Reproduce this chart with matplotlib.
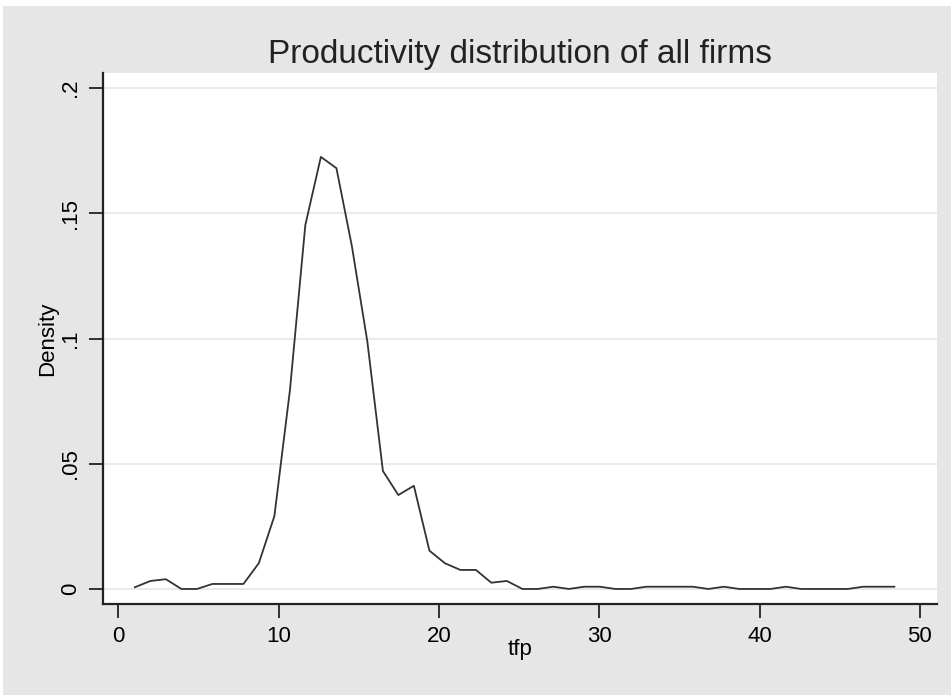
import matplotlib
matplotlib.use("Agg")
import matplotlib.pyplot as plt
from matplotlib.patches import Rectangle

plt.rcParams['font.family'] = ['Liberation Sans', 'DejaVu Sans']

# kdensity-style evaluation points (tfp) and density values
tfp = [1.04, 2.01, 2.97, 3.94, 4.91, 5.87, 6.84, 7.81, 8.77, 9.74,
       10.71, 11.67, 12.64, 13.61, 14.57, 15.54, 16.51, 17.47, 18.44, 19.41,
       20.37, 21.34, 22.31, 23.27, 24.24, 25.21, 26.17, 27.14, 28.11, 29.07,
       30.04, 31.01, 31.97, 32.94, 33.91, 34.87, 35.84, 36.81, 37.77, 38.74,
       39.70, 40.67, 41.64, 42.60, 43.57, 44.54, 45.50, 46.47, 47.44, 48.41]
density = [0.0007, 0.0032, 0.0039, 0.0, 0.0, 0.002, 0.002, 0.002, 0.0103, 0.0291,
           0.0794, 0.1453, 0.1725, 0.168, 0.137, 0.0987, 0.0471, 0.0375, 0.0412, 0.0153,
           0.0103, 0.0076, 0.0076, 0.0025, 0.0032, 0.0, 0.0, 0.0009, 0.0, 0.0009,
           0.0009, 0.0, 0.0, 0.0009, 0.0009, 0.0009, 0.0009, 0.0, 0.0009, 0.0,
           0.0, 0.0, 0.0009, 0.0, 0.0, 0.0, 0.0, 0.0009, 0.0009, 0.0009]

xticks = [0, 10, 20, 30, 40, 50]
yticks = [0, 0.05, 0.1, 0.15, 0.2]
ylabels = ['0', '.05', '.1', '.15', '.2']

fig = plt.figure(figsize=(9.51, 6.95), dpi=100)
fig.patch.set_facecolor('#e6e6e6')
# thin white border at the top and left, as in the exported graph
fig.patches.append(Rectangle((0, 1 - 6 / 695), 1, 6 / 695, transform=fig.transFigure,
                             facecolor='white', edgecolor='none', zorder=-1))
fig.patches.append(Rectangle((0, 0), 3 / 951, 1, transform=fig.transFigure,
                             facecolor='white', edgecolor='none', zorder=-1))

ax = fig.add_axes([103 / 951, 91 / 695, 834 / 951, 531 / 695])
ax.set_facecolor('white')
ax.plot(tfp, density, color='#333333', lw=1.3)

ax.set_xlim(-0.95, 51.07)
ax.set_ylim(-0.006, 0.206)
ax.set_xticks(xticks)
ax.set_yticks(yticks)
ax.set_yticklabels(ylabels, rotation=90, va='center')
ax.tick_params(axis='both', direction='out', length=10, width=1.3, color='#222222',
               labelsize=16, pad=6)
ax.grid(axis='y', color='#e6e6e6', lw=1.2)
ax.set_axisbelow(True)

for s in ['top', 'right']:
    ax.spines[s].set_visible(False)
for s in ['left', 'bottom']:
    ax.spines[s].set_linewidth(1.6)
    ax.spines[s].set_color('#222222')

ax.set_xlabel('tfp', fontsize=16, va='center')
ax.xaxis.set_label_coords(0.5, -0.086)
ax.set_ylabel('Density', fontsize=16, va='center')
ax.yaxis.set_label_coords(-0.066, 0.5)
fig.text(520 / 951, 1 - 55 / 695, 'Productivity distribution of all firms',
         ha='center', va='center', fontsize=24, color='#222222')

fig.savefig('out.png', dpi=100, facecolor=fig.get_facecolor())
